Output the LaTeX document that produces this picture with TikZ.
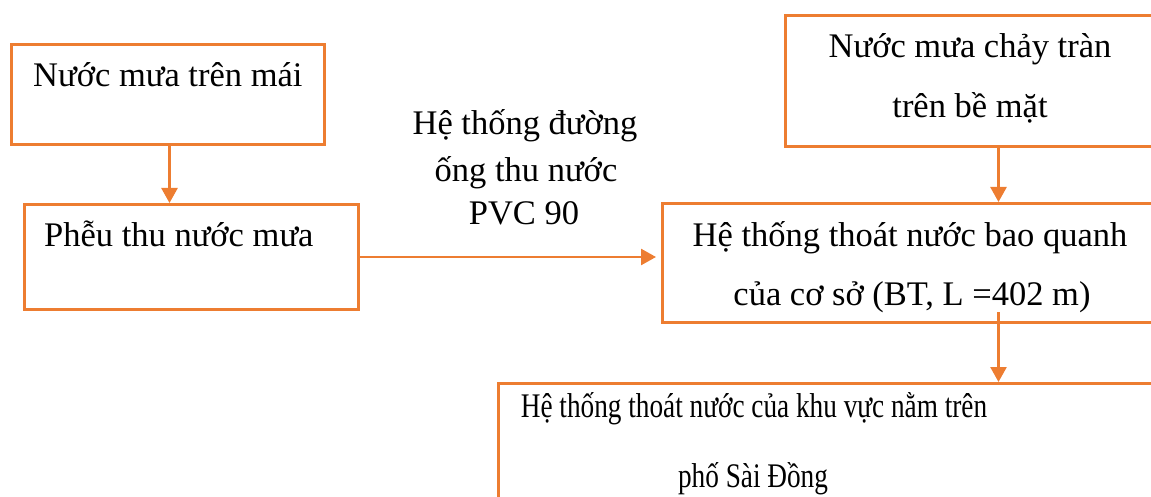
\documentclass[tikz,border=0pt]{standalone}
\usepackage{fontspec}
\usepackage{graphicx}
\setmainfont{Liberation Serif}
\usetikzlibrary{arrows.meta}
\definecolor{flow}{HTML}{ED7D31}
\begin{document}
\begin{tikzpicture}[x=1pt,y=-1pt,
  box/.style={draw=flow,line width=3pt,rectangle,inner sep=0pt,anchor=north west},
  txt/.style={inner sep=0pt,anchor=base,font=\fontsize{34.5}{40}\selectfont},
  txtl/.style={txt,anchor=base west},
  link/.style={draw=flow,line width=2.6pt,-{Triangle[length=15pt,width=16pt]}}]
\useasboundingbox (0,0) rectangle (1151,497);
\clip (0,0) rectangle (1151,497);

% boxes (the right-hand ones run on past the page edge)
\node[box,minimum width=313pt,minimum height=100pt] (b1) at (10,43) {};
\node[box,minimum width=334pt,minimum height=105pt] (b2) at (23,203) {};
\node[box,minimum width=426pt,minimum height=131pt] (b3) at (784,14) {};
\node[box,minimum width=672pt,minimum height=119pt] (b4) at (661,202) {};
\node[box,minimum width=1000pt,minimum height=200pt] (b5) at (497,382) {};

% texts
\node[txtl] (t1) at (33,87) {Nước mưa trên mái};
\node[txtl] (t2) at (44,247) {Phễu thu nước mưa};
\node[txt] (t3a) at (970,58) {Nước mưa chảy tràn};
\node[txt] (t3b) at (970,118) {trên bề mặt};
\node[txt] (t4a) at (910,247) {Hệ thống thoát nước bao quanh};
\node[txt] (t4b) at (912,305) {của cơ sở (BT, L =402 m)};
\node[txt] (t5a) at (754,417) {\scalebox{0.79}[1]{Hệ thống thoát nước của khu vực nằm trên}};
\node[txt] (t5b) at (753,487) {\scalebox{0.79}[1]{phố Sài Đồng}};
\node[txt] (l1) at (525,135) {Hệ thống đường};
\node[txt] (l2) at (526,182) {ống thu nước};
\node[txt] (l3) at (524,225) {PVC 90};

% connectors
\coordinate (s1) at ([xshift=1.5pt]b1.south);
\draw[link] (s1) -- (s1 |- b2.north);
\draw[link] (b3.south) -- (b4.north);
\draw[link] (b2.east) -- ([xshift=-5pt]b4.west |- b2.east);
\draw[link] ([yshift=12pt]b4.south) -- (b5.north);
\end{tikzpicture}
\end{document}
